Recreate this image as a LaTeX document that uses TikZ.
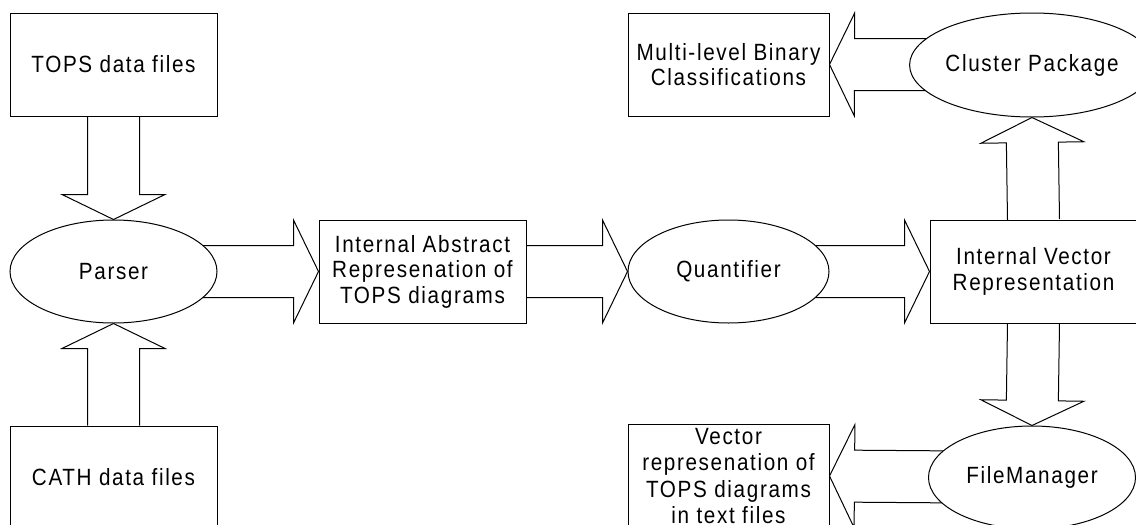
\documentclass[tikz,border=0pt]{standalone}
\usepackage{fontspec}
\setmainfont{Liberation Sans}[FakeStretch=0.88, LetterSpace=7]
\usetikzlibrary{shapes.geometric,calc,backgrounds}
\tikzset{
  lbl/.style={font=\fontsize{23.5}{25.5}\selectfont, align=center, inner sep=0pt},
  boxnode/.style={lbl, draw, fill=white, line width=1pt, minimum width=207pt, minimum height=103pt},
  narrowbox/.style={boxnode, minimum width=201pt},
  ellnode/.style={lbl, ellipse, draw, fill=white, line width=1pt, minimum width=207pt, minimum height=103pt},
  blk/.style={draw, line width=1pt, line join=miter},
}
\newcommand\barrow[2]{%
  \coordinate (hb) at ($(#2)!25pt!(#1)$);
  \draw[blk] ($(#1)!26pt!90:(#2)$) -- ($(hb)!26pt!90:(#2)$) -- ($(hb)!51.5pt!90:(#2)$)
    -- (#2) -- ($(hb)!51.5pt!-90:(#2)$) -- ($(hb)!26pt!-90:(#2)$) -- ($(#1)!26pt!-90:(#2)$);}
\begin{document}
\begin{tikzpicture}[x=1pt,y=-1pt]
\useasboundingbox (0,0) rectangle (1136,525);
\node[boxnode] (tops) at (113.5,64.5) {TOPS data files};
\node[boxnode] (cath) at (113.5,477.5) {CATH data files};
\node[ellnode] (parser) at (113.5,271.5) {Parser};
\node[boxnode] (abs) at (422.5,271.5) {Internal Abstract\\Represenation of\\TOPS diagrams};
\node[ellnode, minimum width=201pt] (quant) at (728.5,271.5) {Quantifier};
\node[boxnode] (iv) at (1033.5,271.5) {Internal Vector\\Representation};
\node[ellnode, minimum height=104pt] (cluster) at (1032,65) {Cluster Package};
\node[narrowbox] (multi) at (728.5,64.5) {Multi-level Binary\\Classifications};
\node[ellnode] (fm) at (1032,477.5) {FileManager};
\node[narrowbox, font=\fontsize{23.5}{26.5}\selectfont] (vec) at (728.5,476) {Vector\\represenation of\\TOPS diagrams\\in text files};
\begin{scope}[on background layer]
\barrow{tops.south}{parser.north}
\barrow{cath.north}{parser.south}
\barrow{parser.center}{abs.west}
\barrow{abs.east}{quant.west}
\barrow{quant.center}{iv.west}
\barrow{iv.north}{cluster.south}
\barrow{iv.south}{fm.north}
\barrow{cluster.center}{multi.east}
\barrow{fm.center}{vec.east}
\end{scope}
\end{tikzpicture}
\end{document}
